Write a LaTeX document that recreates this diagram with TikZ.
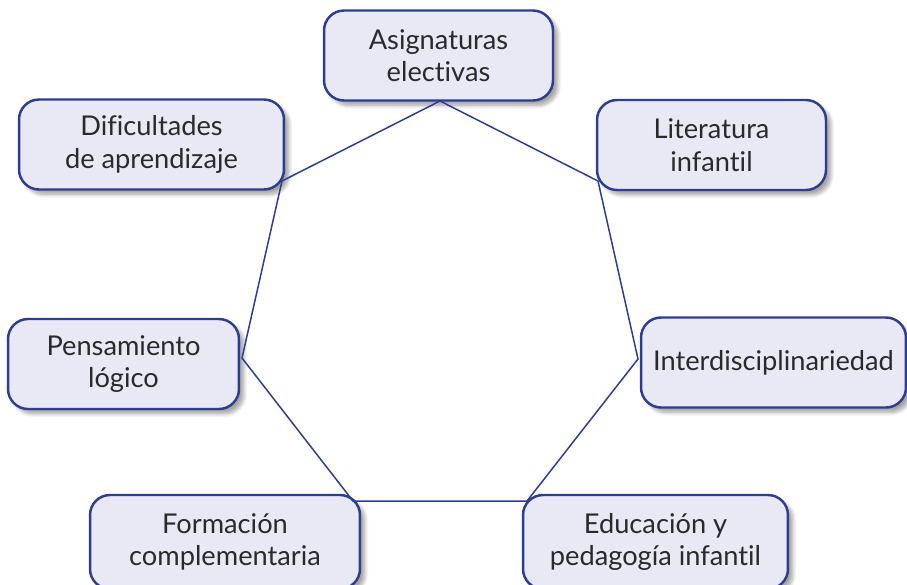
\documentclass[tikz,border=0pt]{standalone}
\usepackage{fontspec}
\setmainfont{Lato}[RawFeature=-liga]
\usetikzlibrary{shadows.blur}
\definecolor{rimblue}{HTML}{2E3D8F}
\definecolor{boxfill}{HTML}{E8E9F5}
\definecolor{txtgray}{HTML}{2A2A2A}

\begin{document}
\begin{tikzpicture}[x=0.02cm,y=-0.02cm]
\tikzstyle{area}=[rectangle,align=center,draw=rimblue,fill=boxfill,line width=1.4pt,rounded corners=0.4cm,minimum height=1.8cm,text=txtgray,font=\fontsize{15.5}{18.5}\selectfont,blur shadow={shadow xshift=0.1cm,shadow yshift=-0.1cm,shadow blur steps=8,shadow opacity=35}]
\tikzstyle{ring}=[draw=rimblue,line width=0.85pt,line join=miter]
\useasboundingbox (0,0) rectangle (907,585);
\node[area,minimum width=4.58cm] (asignaturas) at (438.5,55.5){Asignaturas\\electivas};
\node[area,minimum width=4.58cm] (literatura) at (711.5,145){Literatura\\infantil};
\node[area,minimum width=5.3cm] (dificultades) at (151.5,144.5){Dificultades\\de aprendizaje};
\node[area,minimum width=4.62cm] (pensamiento) at (123.5,364){Pensamiento\\lógico};
\node[area,minimum width=5.3cm] (inter) at (773.5,362.5){Interdisciplinariedad};
\node[area,minimum width=5.4cm,minimum height=1.88cm] (formacion) at (225,542){Formación\\complementaria};
\node[area,minimum width=5.3cm,minimum height=1.88cm] (educacion) at (655.5,542){Educación y\\pedagogía infantil};

% vertices of the heptagon
\coordinate (v1) at (440,101);
\coordinate (v2) at (598,181);
\coordinate (v3) at (638,359);
\coordinate (v4) at (527,501);
\coordinate (v5) at (353,501);
\coordinate (v6) at (242,358);
\coordinate (v7) at (282,181);
\draw[ring] (v1)--(v2)--(v3)--(v4)--(v5)--(v6)--(v7)--cycle;

\end{tikzpicture}
\end{document}
